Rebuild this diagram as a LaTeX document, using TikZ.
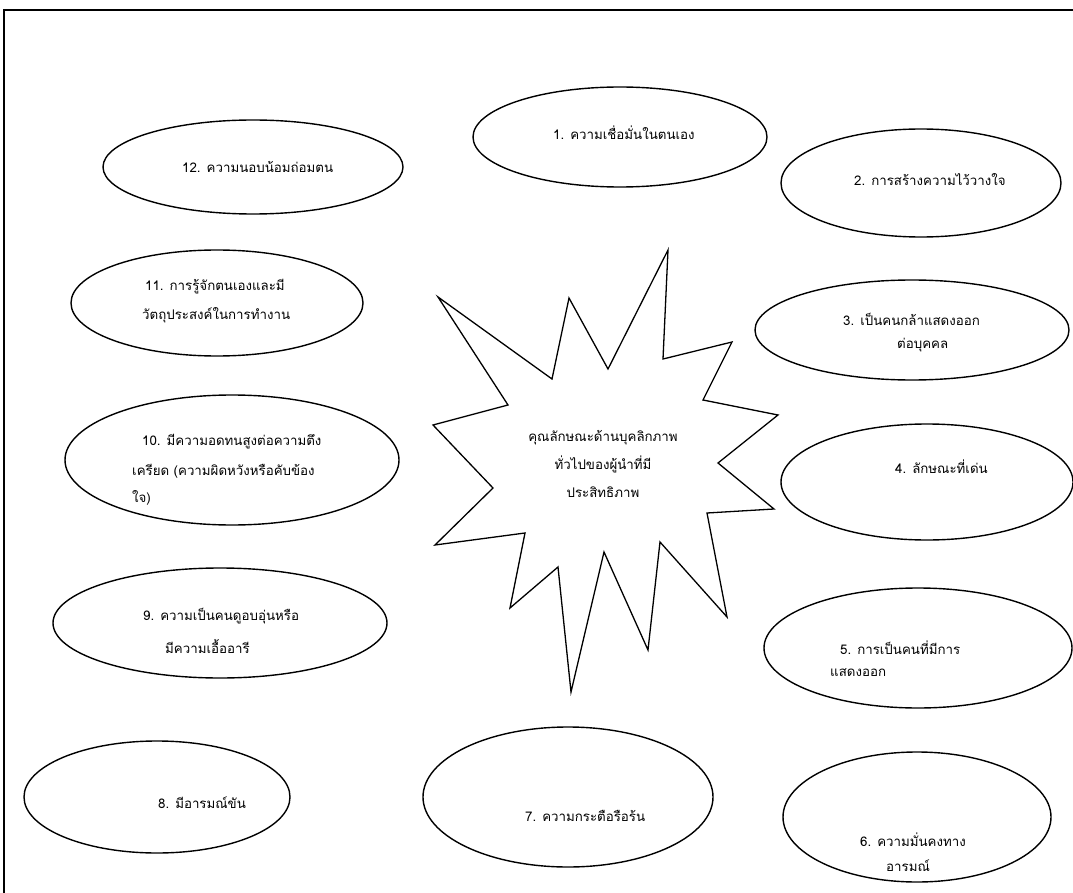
\documentclass[tikz,border=0pt]{standalone}
\usepackage{fontspec}
\usetikzlibrary{shapes.geometric}
\newfontfamily\thaifont[Script=Thai]{Loma}
\tikzset{
  ell/.style={draw, ellipse, line width=1.4pt, inner sep=0pt},
  txt/.style={font=\thaifont\fontsize{13.3}{15}\selectfont, anchor=west, inner sep=0pt},
  ctxt/.style={font=\thaifont\fontsize{13.3}{15}\selectfont, anchor=center, inner sep=0pt},
  frame/.style={line width=1.5pt},
  starline/.style={line width=1.3pt, line join=miter}
}
\begin{document}
\begin{tikzpicture}[x=1pt,y=-1pt]
\useasboundingbox (0,0) rectangle (1073,893);
\coordinate (fa) at (4,893);
\coordinate (fb) at (4,10);
\coordinate (fc) at (1073,10);
\draw[frame] (fa) -- (fb) -- (fc);
% ellipses
\node[ell, minimum width=294pt, minimum height=100pt] (e1) at (620,137) {};
\node[ell, minimum width=280pt, minimum height=108pt] (e2) at (921,183) {};
\node[ell, minimum width=314pt, minimum height=100pt] (e3) at (912,330) {};
\node[ell, minimum width=292pt, minimum height=116pt] (e4) at (927,482) {};
\node[ell, minimum width=308pt, minimum height=120pt] (e5) at (918,648) {};
\node[ell, minimum width=268pt, minimum height=130pt] (e6) at (917,817) {};
\node[ell, minimum width=290pt, minimum height=140pt] (e7) at (568,797) {};
\node[ell, minimum width=266pt, minimum height=112pt] (e8) at (157,797) {};
\node[ell, minimum width=334pt, minimum height=110pt] (e9) at (220,623) {};
\node[ell, minimum width=334pt, minimum height=130pt] (e10) at (232,460) {};
\node[ell, minimum width=292pt, minimum height=106pt] (e11) at (217,303) {};
\node[ell, minimum width=300pt, minimum height=94pt] (e12) at (253,167) {};
% star
\draw[starline] (668,250) -- (663,359) -- (732,342) -- (703,400) -- (778,415) -- (718,463)
  -- (774,509) -- (707,513) -- (727,617) -- (660,542) -- (648,650) -- (604,552) -- (571,692)
  -- (558,567) -- (510,608) -- (525,533) -- (435,545) -- (493,488) -- (433,425) -- (508,405)
  -- (438,297) -- (552,379) -- (569,298) -- (608,369) -- cycle;
% texts
\node[txt] (t1) at (553,133) {1. ความเชื่อมั่นในตนเอง};
\node[txt] (t2) at (854,180) {2. การสร้างความไว้วางใจ};
\node[txt] (t3a) at (843,319) {3. เป็นคนกล้าแสดงออก};
\node[txt] (t3b) at (897,345) {ต่อบุคคล};
\node[txt] (t4) at (895,467) {4. ลักษณะที่เด่น};
\node[txt] (t5a) at (840,648) {5. การเป็นคนที่มีการ};
\node[txt] (t5b) at (830,673) {แสดงออก};
\node[txt] (t6a) at (860,840) {6. ความมั่นคงทาง};
\node[txt] (t6b) at (886,866) {อารมณ์};
\node[txt] (t7) at (525,816) {7. ความกระตือรือร้น};
\node[txt] (t8) at (158,803) {8. มีอารมณ์ขัน};
\node[txt] (t9a) at (143,616) {9. ความเป็นคนดูอบอุ่นหรือ};
\node[txt] (t9b) at (165,646) {มีความเอื้ออารี};
\node[txt] (t10a) at (142,442) {10. มีความอดทนสูงต่อความตึง};
\node[txt] (t10b) at (132,471) {เครียด (ความผิดหวังหรือคับข้อง};
\node[txt] (t10c) at (132,498) {ใจ)};
\node[txt] (t11a) at (145,287) {11. การรู้จักตนเองและมี};
\node[txt] (t11b) at (142,315) {วัตถุประสงค์ในการทำงาน};
\node[txt] (t12) at (182,167) {12. ความนอบน้อมถ่อมตน};
\node[ctxt] (c1) at (603,438) {คุณลักษณะด้านบุคลิกภาพ};
\node[ctxt] (c2) at (603,464) {ทั่วไปของผู้นำที่มี};
\node[ctxt] (c3) at (603,492) {ประสิทธิภาพ};
\end{tikzpicture}
\end{document}
